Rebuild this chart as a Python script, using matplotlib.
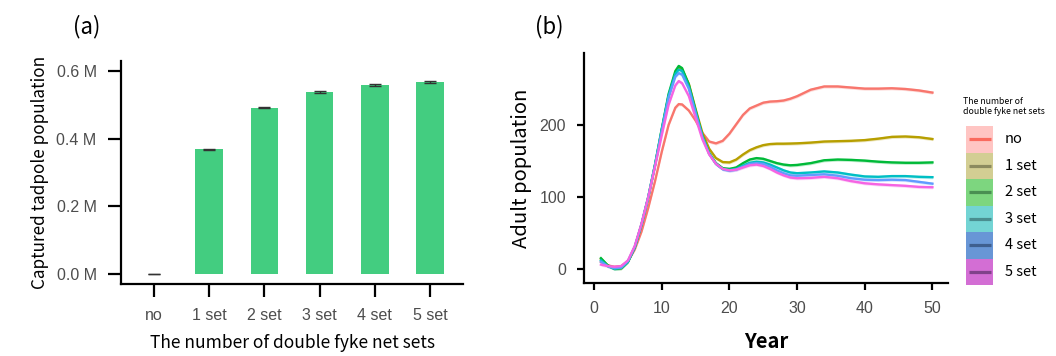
import numpy as np
import matplotlib
matplotlib.use("Agg")
import matplotlib.pyplot as plt
from matplotlib.patches import Rectangle

# panel (a): captured tadpoles
net_sets = ["no", "1 set", "2 set", "3 set", "4 set", "5 set"]
captured = [0.0, 0.369, 0.4915, 0.538, 0.5595, 0.5675]
captured_se = [0.0, 0.001, 0.0015, 0.002, 0.003, 0.0035]

# panel (b): adult population (smoothed curves)
years = [1, 2, 3, 4, 5, 6, 7, 8, 9, 10, 11, 12, 12.5, 13, 14, 15, 16, 17, 18, 19, 20,
         21, 22, 23, 24, 25, 26, 27, 28, 29, 30, 32, 34, 36, 38, 40, 42, 44, 46, 48, 50]
adult_no = [10, 5, 3, 4, 11, 27, 52, 85, 122, 163, 200, 224, 229, 228.5, 220, 206, 189, 177, 174.5, 178, 188,
            201, 214, 223, 227, 231, 232.5, 233, 234, 236.5, 240, 249, 253.5, 253.5, 252, 250.5, 250.5, 251, 250, 248, 245]
adult_1 = [14, 5, 1, 1, 10, 30, 61, 99, 144, 193, 240, 272, 280, 277, 257, 222, 189, 167, 154, 148.5, 148,
           152, 159, 165, 169, 172, 173.5, 174, 174, 174.2, 174.5, 175.5, 177, 177.5, 178, 179, 181, 183.5, 184, 183, 180.5]
adult_2 = [15, 5, 0, 1, 10, 30, 62, 100, 145, 195, 243, 275, 282, 279, 256, 220, 185, 161, 147, 140, 139,
           141, 147, 152, 154, 153, 150, 147, 145, 144, 144.5, 147, 151, 152, 151.5, 150.5, 149, 148, 147.5, 147.5, 148]
adult_3 = [12, 4, 0.5, 1.5, 10, 30, 62, 100, 145, 194, 241, 271, 277, 275, 253, 218, 184, 160, 146, 139, 137.5,
           139, 143.5, 147.5, 149, 148, 145, 141, 137, 134, 133, 134, 135.5, 134, 131, 128.5, 128, 129, 129, 128, 127.5]
adult_4 = [10, 4, 1, 2, 11, 31, 62, 100, 144, 192, 238, 267, 272, 270, 250, 216, 183, 160, 146, 138.5, 136.5,
           138, 142, 146, 147, 146, 142, 137, 133, 130, 129.5, 130.5, 131.5, 129.5, 126, 124, 123.5, 124, 123.5, 121, 118.5]
adult_5 = [6, 4, 3, 4, 12, 32, 63, 100, 142, 186, 228, 255, 261, 258, 240, 210, 180, 159, 146, 139, 137,
           138, 141, 144, 145, 143, 139, 134, 130, 127, 126, 126.5, 128, 126, 122, 119, 117.5, 116.5, 115.5, 114, 113.5]

series = [adult_no, adult_1, adult_2, adult_3, adult_4, adult_5]
hue = ["#F8766D", "#B79F00", "#00BA38", "#00BFC4", "#619CFF", "#F564E3"]
key_fill = ["#FFC5C3", "#D3CE93", "#7DD67F", "#73D4D4", "#6896D6", "#D36ED4"]
key_line = ["#FA6A5E", "#8C8A5E", "#4A8F52", "#4A8E90", "#3F5F8F", "#80428A"]

W, H = 1056, 356
title_font = ["Noto Sans CJK KR", "DejaVu Sans"]
tick_font = "Liberation Sans"

fig = plt.figure(figsize=(W / 100, H / 100), dpi=100)


def px_axes(left, top, right, bottom):
    return fig.add_axes([left / W, 1 - bottom / H, (right - left) / W, (bottom - top) / H])


def style_axes(ax, ticklen):
    for side in ["top", "right"]:
        ax.spines[side].set_visible(False)
    for side in ["left", "bottom"]:
        ax.spines[side].set_linewidth(1.6)
    ax.tick_params(length=ticklen, width=1.6, colors="black", labelcolor="#4D4D4D", labelsize=11.5, pad=8)
    for lab in ax.get_xticklabels() + ax.get_yticklabels():
        lab.set_fontfamily(tick_font)


# ---- (a)
ax1 = px_axes(121, 61, 463, 284)
x = np.arange(len(net_sets))
ax1.bar(x, captured, width=0.5, color="#43CD80")
ax1.errorbar(x, captured, yerr=captured_se, fmt="none", ecolor="#333333", elinewidth=1, capsize=4.5, capthick=1)
ax1.set_xlim(-0.6, 5.6)
ax1.set_ylim(-0.03, 0.63)
ax1.set_xticks(x)
ax1.set_xticklabels(net_sets)
ax1.set_yticks([0, 0.2, 0.4, 0.6])
ax1.set_yticklabels([f"{v:.1f} M" for v in [0, 0.2, 0.4, 0.6]])
style_axes(ax1, 9.5)
ax1.set_xlabel("The number of double fyke net sets", family=title_font, fontsize=12.5, labelpad=8)
ax1.set_ylabel("Captured tadpole population", family=title_font, fontsize=12.3, labelpad=5)

# ---- (b)
ax2 = px_axes(584, 53, 948, 283)
for vals, col in zip(series, hue):
    v = np.array(vals, dtype=float)
    ax2.fill_between(years, v - 2.2, v + 2.2, color=col, alpha=0.25, linewidth=0)
    ax2.plot(years, v, color=col, linewidth=1.7)
ax2.set_xlim(-1.5, 52.3)
ax2.set_ylim(-19.5, 300)
ax2.set_xticks([0, 10, 20, 30, 40, 50])
ax2.set_yticks([0, 100, 200])
style_axes(ax2, 5)
ax2.set_xlabel("Year", family=title_font, fontsize=14.5, fontweight="bold", labelpad=11)
ax2.set_ylabel("Adult population", family=title_font, fontsize=14.5, labelpad=5)

# ---- legend, drawn by hand in its own little axes (ggplot style keys)
lax = px_axes(966, 126, 1050, 285)
lax.set_xlim(0, 84)
lax.set_ylim(len(net_sets), 0)
lax.axis("off")
for i, name in enumerate(net_sets):
    lax.add_patch(Rectangle((0, i), 27, 1, facecolor=key_fill[i], edgecolor="none"))
    lax.plot([2.5, 24.5], [i + 0.5, i + 0.5], color=key_line[i], linewidth=2.3, solid_capstyle="butt")
    lax.text(39, i + 0.5, name, family=title_font, fontsize=10.5, va="center", ha="left")
fig.text(963 / W, 1 - 97 / H, "The number of\ndouble fyke net sets", family=title_font,
         fontsize=6.3, va="top", ha="left", linespacing=1.1)

fig.text(73 / W, 1 - 27 / H, "(a)", family=title_font, fontsize=16, va="center", ha="left")
fig.text(535 / W, 1 - 27 / H, "(b)", family=title_font, fontsize=16, va="center", ha="left")

fig.savefig("out.png", dpi=100)
